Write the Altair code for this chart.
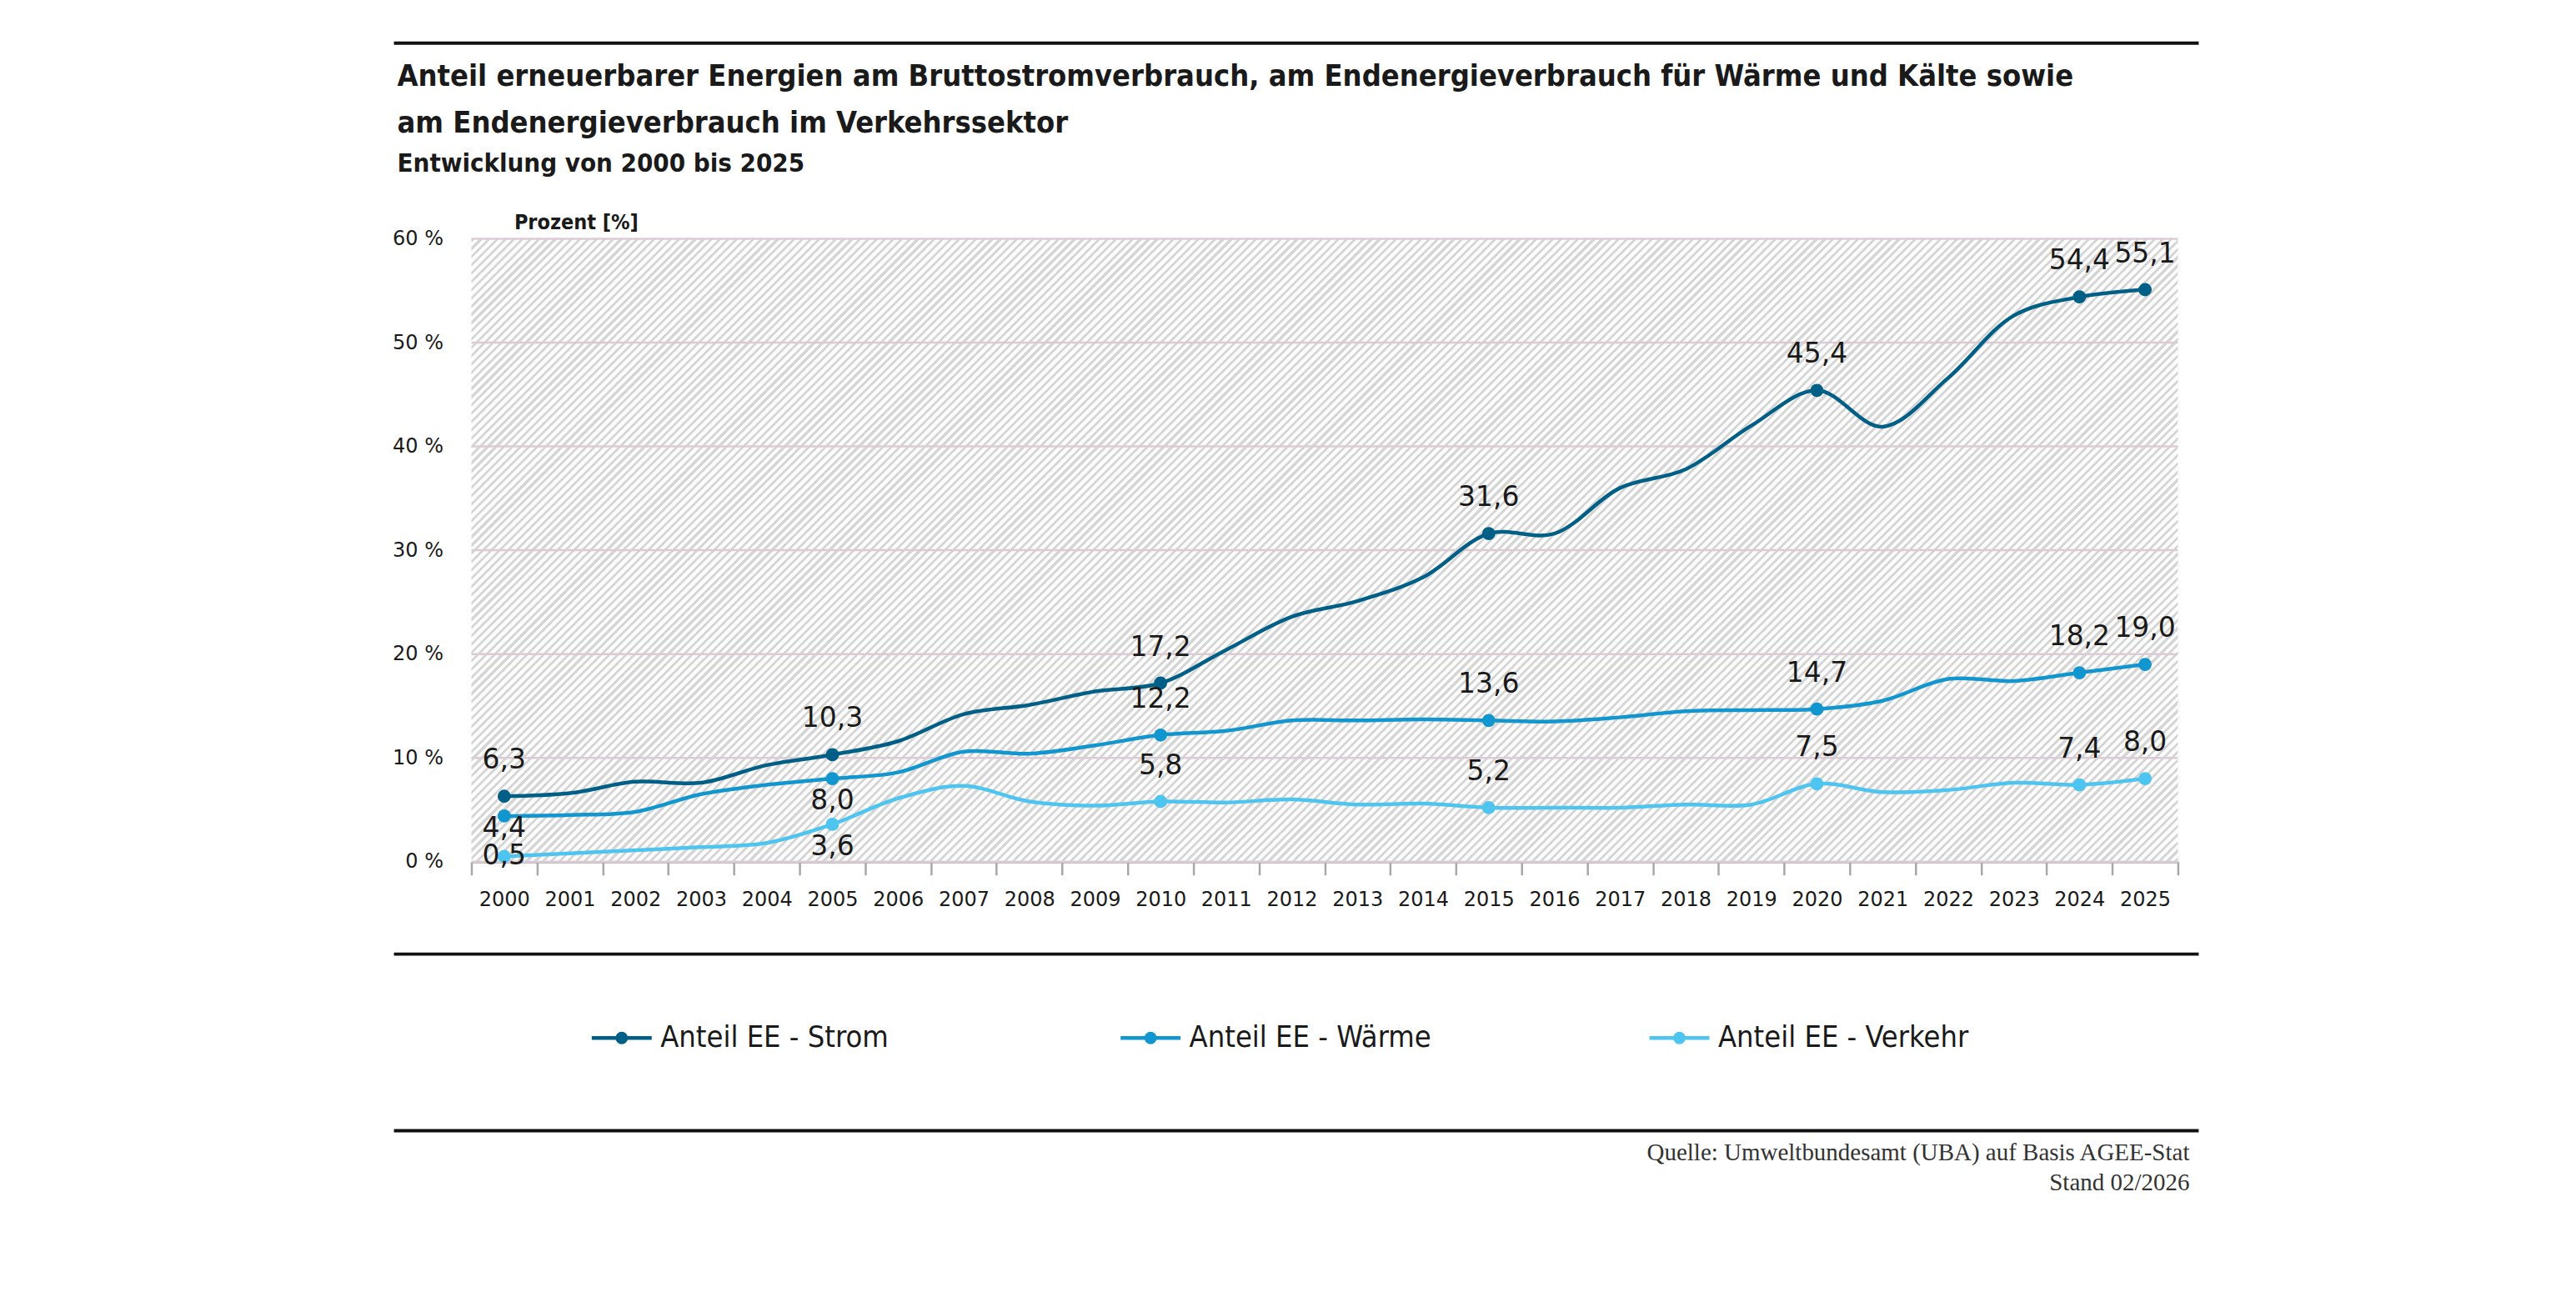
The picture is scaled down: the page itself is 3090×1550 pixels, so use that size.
import altair as alt
import pandas as pd

# ---------------- data ----------------
years = list(range(2000, 2026))
strom = [6.3, 6.6, 7.7, 7.6, 9.3, 10.3, 11.6, 14.2, 15.1, 16.4, 17.2, 20.4, 23.6,
         25.1, 27.4, 31.6, 31.6, 36.0, 37.8, 42.0, 45.4, 41.9, 46.6, 52.6, 54.4, 55.1]
waerme = [4.4, 4.5, 4.8, 6.5, 7.4, 8.0, 8.6, 10.6, 10.4, 11.2, 12.2, 12.6, 13.6,
          13.6, 13.7, 13.6, 13.5, 13.9, 14.5, 14.6, 14.7, 15.5, 17.6, 17.4, 18.2, 19.0]
verkehr = [0.5, 0.8, 1.1, 1.4, 1.8, 3.6, 6.1, 7.3, 5.8, 5.4, 5.8, 5.7, 6.0,
           5.5, 5.6, 5.2, 5.2, 5.2, 5.5, 5.5, 7.5, 6.7, 6.9, 7.6, 7.4, 8.0]
series_names = ["Anteil EE - Strom", "Anteil EE - Wärme", "Anteil EE - Verkehr"]
series_values = [strom, waerme, verkehr]
series_colors = ["#005f86", "#1196cf", "#4ec5f0"]
labeled_years = [2000, 2005, 2010, 2015, 2020, 2024, 2025]
y_ticks = [0, 10, 20, 30, 40, 50, 60]
# label placement (categorical): default is above the point
label_below = [("Anteil EE - Wärme", 2005), ("Anteil EE - Verkehr", 2005)]
label_near_below = [("Anteil EE - Wärme", 2000)]
label_on = [("Anteil EE - Verkehr", 2000)]

title_lines = [
    "Anteil erneuerbarer Energien am Bruttostromverbrauch, am Endenergieverbrauch  für Wärme und Kälte sowie",
    "am Endenergieverbrauch  im Verkehrssektor",
]
subtitle = "Entwicklung von 2000 bis 2025"
y_title = "Prozent [%]"
source_lines = ["Quelle: Umweltbundesamt (UBA) auf Basis AGEE-Stat", "Stand 02/2026"]

# ---------------- tables ----------------
rows = []
for name, vals in zip(series_names, series_values):
    for yr, v in zip(years, vals):
        key = (name, yr)
        if key in label_below:
            pos = "below"
        elif key in label_near_below:
            pos = "near"
        elif key in label_on:
            pos = "on"
        else:
            pos = "above"
        rows.append({"series": name, "year": yr, "value": v,
                     "label": f"{v:.1f}".replace(".", ","),
                     "marked": yr in labeled_years, "pos": pos})
df = pd.DataFrame(rows)
marked = df[df["marked"]]
grid_df = pd.DataFrame({"value": y_ticks})

W, H = 2049, 748
TXT = "#1a1a1a"
COND = "DejaVu Sans Condensed"

xscale = alt.Scale(type="band", paddingInner=0, paddingOuter=0)
yscale = alt.Scale(domain=[0, 60], nice=False)
cscale = alt.Scale(domain=series_names, range=series_colors)

# ---------------- hatch background (gradient stripes) ----------------
r = H / W
k = (1 + r) / (1 + r * r)
L = W + H
period = 7 * 2 ** 0.5
grey_w = 3 * 2 ** 0.5
stops = []
n = int(L / period) + 1
for i in range(n):
    t0 = min(1.0, i * period / L)
    t1 = min(1.0, (i * period + grey_w) / L)
    t2 = min(1.0, (i + 1) * period / L)
    stops += [{"offset": round(t0, 6), "color": "#d6d6d6"},
              {"offset": round(t1, 6), "color": "#d6d6d6"},
              {"offset": round(t1, 6), "color": "#ffffff"},
              {"offset": round(t2, 6), "color": "#ffffff"}]
gradient = {"gradient": "linear", "x1": 0, "y1": 0, "x2": k, "y2": k * r, "stops": stops}

one = alt.Data(values=[{"a": 1}])

bg = alt.Chart(one).mark_rect(fill=gradient).encode(
    x=alt.value(0), x2=alt.value("width"), y=alt.value(0), y2=alt.value("height"))

y_axis = alt.Axis(values=y_ticks, title=y_title, titleAngle=0, titleX=51, titleY=-12,
                  titleAlign="left", titleBaseline="alphabetic", titleFont=COND,
                  titleFontSize=25, titleFontWeight="bold", titleColor=TXT,
                  labelExpr="datum.value + ' %'", labelFont="DejaVu Sans",
                  labelFontSize=24, labelColor=TXT, labelPadding=34,
                  ticks=False, domain=False, grid=False)

grid = alt.Chart(grid_df).mark_rule(color="#dccbd4", strokeWidth=2.5).encode(
    y=alt.Y("value:Q", scale=yscale), x=alt.value(0), x2=alt.value("width"))

legend_symbol = ("M-1,0H1"
                 "M-0.056,0a0.056,0.056 0 1,0 0.112,0a0.056,0.056 0 1,0 -0.112,0"
                 "M-0.145,0a0.145,0.145 0 1,0 0.29,0a0.145,0.145 0 1,0 -0.29,0")

x_enc = alt.X("year:O", scale=xscale, bandPosition=0.5,
              axis=alt.Axis(title=None, labelAngle=0, tickBand="extent", tickSize=16,
                            tickColor="#a8a8a8", tickWidth=2.5, domainColor="#a8a8a8",
                            domainWidth=3, labelFont="DejaVu Sans", labelFontSize=24,
                            labelColor=TXT, labelPadding=18, grid=False))

lines = alt.Chart(df).mark_line(interpolate="catmull-rom", strokeWidth=4.5).encode(
    x=x_enc, y=alt.Y("value:Q", scale=yscale, axis=y_axis),
    color=alt.Color("series:N", scale=cscale, sort=series_names,
                    legend=alt.Legend(title=None, orient="none", legendX=142, legendY=921,
                                      direction="horizontal", columns=3, gridAlign="all",
                                      columnPadding=242, symbolType=legend_symbol,
                                      symbolSize=5184, symbolStrokeWidth=4.5,
                                      labelFont=COND, labelFontSize=36, labelOffset=8,
                                      labelColor=TXT, labelLimit=800, padding=0)))

points = alt.Chart(marked).mark_point(filled=True, size=250, opacity=1).encode(
    x=alt.X("year:O", scale=xscale, bandPosition=0.5),
    y=alt.Y("value:Q", scale=yscale),
    color=alt.Color("series:N", scale=cscale, legend=None))

label_dy = {"above": -43, "below": 27, "near": 15, "on": 0}
texts = []
for pos, dy in label_dy.items():
    texts.append(
        alt.Chart(marked[marked["pos"] == pos]).mark_text(
            font="DejaVu Sans", fontSize=33, color=TXT, dy=dy, baseline="middle").encode(
            x=alt.X("year:O", scale=xscale, bandPosition=0.5),
            y=alt.Y("value:Q", scale=yscale),
            text="label:N"))

def hrule(y):
    return alt.Chart(one).mark_rule(color="#111111", strokeWidth=4).encode(
        x=alt.value(-93), x2=alt.value(2074), y=alt.value(y))

def txt(s, x, y, font, size, weight="normal", align="left", color=TXT):
    return alt.Chart(one).mark_text(font=font, fontSize=size, fontWeight=weight, align=align,
                                    baseline="alphabetic", color=color).encode(
        x=alt.value(x), y=alt.value(y), text=alt.value(s))

deco = [
    hrule(-235), hrule(859), hrule(1071),
    txt(title_lines[0], -89, -184, COND, 36, "bold"),
    txt(title_lines[1], -89, -128, COND, 36, "bold"),
    txt(subtitle, -89, -81, COND, 31, "bold"),
    txt(source_lines[0], 2063, 1107, "Liberation Serif", 29, align="right", color="#333333"),
    txt(source_lines[1], 2063, 1143, "Liberation Serif", 29, align="right", color="#333333"),
]

chart = alt.layer(bg, grid, lines, points, *texts, *deco).properties(
    width=W, height=H,
    autosize=alt.AutoSizeParams(type="none"),
    padding={"left": 558, "top": 278, "right": 470, "bottom": 480},
).configure_view(stroke=None)

chart.save("out.html", embed_options={"renderer": "svg", "actions": False})
